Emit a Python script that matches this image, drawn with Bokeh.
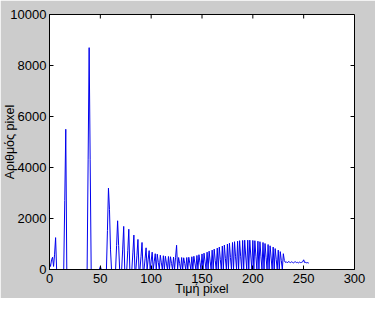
from bokeh.plotting import figure
from bokeh.models import FixedTicker, Range1d, ColumnDataSource
from bokeh.embed import file_html
from bokeh.resources import INLINE

# Histogram counts for pixel values 0..255
pixel_values = list(range(256))
counts = [
    250, 120, 380, 480, 120, 600, 1250, 0, 0, 0,          # 0-9
    0, 0, 0, 0, 0, 2700, 5500, 0, 0, 0,                   # 10-19
    0, 0, 0, 0, 0, 0, 0, 0, 0, 0,                         # 20-29
    0, 0, 0, 0, 0, 0, 0, 0, 4300, 8700,                   # 30-39
    4300, 0, 0, 0, 0, 0, 0, 0, 0, 0,                      # 40-49
    120, 0, 0, 0, 0, 0, 0, 1530, 3190, 2360,              # 50-59
    770, 0, 0, 0, 0, 0, 940, 1910, 940, 0,                # 60-69
    0, 0, 800, 1690, 0, 0, 0, 750, 1580, 0,               # 70-79
    0, 0, 650, 1350, 0, 0, 560, 1180, 0, 0,               # 80-89
    500, 1060, 0, 0, 420, 850, 0, 380, 740, 0,            # 90-99
    330, 680, 0, 300, 620, 0, 600, 280, 0, 560,           # 100-109
    260, 0, 540, 0, 520, 250, 0, 510, 0, 500,             # 110-119
    240, 0, 490, 0, 480, 950, 0, 470, 230, 0,             # 120-129
    470, 0, 460, 240, 0, 470, 0, 480, 240, 0,             # 130-139
    500, 0, 520, 250, 0, 550, 0, 580, 280, 0,             # 140-149
    610, 0, 640, 300, 0, 680, 0, 720, 330, 0,             # 150-159
    760, 0, 800, 360, 0, 840, 0, 880, 400, 0,             # 160-169
    920, 0, 960, 440, 0, 1000, 0, 1030, 470, 0,           # 170-179
    1060, 0, 1090, 500, 0, 1110, 0, 1130, 520, 0,         # 180-189
    1140, 0, 1150, 530, 0, 1150, 0, 1150, 530, 0,         # 190-199
    1140, 0, 1130, 520, 0, 1110, 0, 1090, 500, 0,         # 200-209
    1060, 0, 1020, 480, 0, 980, 0, 930, 450, 0,           # 210-219
    880, 0, 820, 400, 0, 760, 0, 700, 350, 0,             # 220-229
    620, 350, 280, 300, 260, 310, 290, 270, 300, 280,     # 230-239
    260, 290, 300, 270, 280, 260, 290, 270, 280, 300,     # 240-249
    380, 270, 280, 260, 270, 250,                         # 250-255
]

x_ticks = [0, 50, 100, 150, 200, 250, 300]
y_ticks = [0, 2000, 4000, 6000, 8000, 10000]
x_label = "Τιμή pixel"
y_label = "Αριθμός pixel"

X_MIN, X_MAX = 0, 300
Y_MIN, Y_MAX = 0, 10000

FONT = "Liberation Sans"
BG = "#cccccc"
LINE = "#0000ee"
TICK_PX = 4

FRAME_W = 310
FRAME_H = 255

source = ColumnDataSource(data=dict(x=pixel_values, y=counts))

p = figure(width=375, height=298,
           x_range=Range1d(X_MIN, X_MAX), y_range=Range1d(Y_MIN, Y_MAX),
           output_backend="svg", toolbar_location=None,
           min_border_left=44, min_border_right=21,
           min_border_top=14, min_border_bottom=29)

p.background_fill_color = "white"
p.border_fill_color = BG
p.outline_line_color = "black"
p.outline_line_width = 1
p.grid.visible = False

p.line("x", "y", source=source, line_color=LINE, line_width=1)

for ax in (p.xaxis[0], p.yaxis[0]):
    ax.major_tick_in = TICK_PX
    ax.major_tick_out = 0
    ax.minor_tick_line_color = None
    ax.axis_line_color = "black"
    ax.major_tick_line_color = "black"
    ax.major_label_text_font = FONT
    ax.major_label_text_font_size = "13px"
    ax.major_label_text_color = "black"
    ax.axis_label_text_font = FONT
    ax.axis_label_text_font_size = "12.5px"
    ax.axis_label_text_font_style = "normal"
    ax.axis_label_text_color = "black"

p.xaxis[0].ticker = FixedTicker(ticks=x_ticks)
p.yaxis[0].ticker = FixedTicker(ticks=y_ticks)
p.xaxis[0].axis_label = x_label
p.yaxis[0].axis_label = y_label
p.xaxis[0].major_label_standoff = 4
p.xaxis[0].axis_label_standoff = -4
p.yaxis[0].major_label_standoff = 3
p.yaxis[0].axis_label_standoff = -10

# inward ticks on the top and right edges of the box (as in the MATLAB axes)
dy = (Y_MAX - Y_MIN) * TICK_PX / FRAME_H
dx = (X_MAX - X_MIN) * TICK_PX / FRAME_W
p.segment(x0=x_ticks, y0=[Y_MAX] * len(x_ticks), x1=x_ticks, y1=[Y_MAX - dy] * len(x_ticks),
          line_color="black", line_width=1)
p.segment(x0=[X_MAX] * len(y_ticks), y0=y_ticks, x1=[X_MAX - dx] * len(y_ticks), y1=y_ticks,
          line_color="black", line_width=1)

open("out.html", "w").write(file_html(p, INLINE))
